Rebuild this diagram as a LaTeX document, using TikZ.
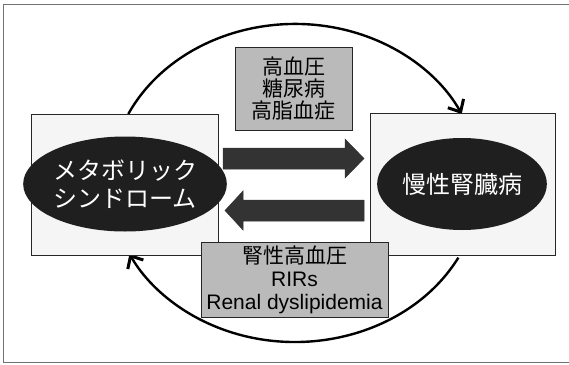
\documentclass[tikz,border=0pt]{standalone}
\usepackage{fontspec}
\setmainfont{Liberation Sans}
\newfontfamily\jp{Noto Sans CJK JP}
\usetikzlibrary{arrows.meta,shapes.geometric}
\tikzset{
  mainbox/.style={draw=black!85, line width=0.9pt, fill=black!4, minimum width=187pt, minimum height=141pt, inner sep=0pt},
  darkell/.style={ellipse, fill=black!88, text=white, inner sep=0pt, align=center, font=\jp\fontsize{24}{28}\selectfont},
  labelbox/.style={draw=black!85, line width=0.9pt, fill=black!27, inner sep=0pt, align=center},
  cyc/.style={line width=2.4pt, -{Straight Barb[length=10pt,width=18pt,line width=3pt]}},
  bigarrow/.style={fill=black!80, draw=black!80, line width=0.5pt},
  frameline/.style={draw=black!55, line width=0.8pt}
}
\begin{document}
\begin{tikzpicture}[x=1pt,y=-1pt]
\useasboundingbox (0,0) rectangle (569,364);
% outer frame (top, left, bottom)
\draw[frameline] (569,4) -- (3,4) -- (3,362) -- (569,362);
% cycle arcs
\coordinate (lt) at (128.3,114);
\coordinate (rb) at ({295+185*cos(28)},{183+159*sin(28)});
\draw[cyc] (lt) arc[start angle=205.7, end angle=334.3, x radius=185, y radius=159];
\draw[cyc] (rb) arc[start angle=28, end angle=153.5, x radius=185, y radius=159];
% main boxes
\node[mainbox] (L) at (124.5,184.5) {};
\node[mainbox, minimum width=185pt, minimum height=142pt] (R) at (462.5,184) {};
\node[darkell, minimum width=172pt, minimum height=95pt] (ms) at (125,184) {メタボリック\\シンドローム};
\node[darkell, minimum width=164pt, minimum height=92pt] (ckd) at (462,184) {慢性腎臓病};
% big arrows
\draw[bigarrow] (223,148) -- (345,148) -- (345,139) -- (364,158.5) -- (345,178) -- (345,169) -- (223,169) -- cycle;
\draw[bigarrow] (364,200) -- (243,200) -- (243,191) -- (225,210.5) -- (243,230) -- (243,221) -- (364,221) -- cycle;
% label boxes
\node[labelbox, minimum width=117pt, minimum height=83pt, font=\jp\fontsize{21}{22}\selectfont] (top) at (293.5,88.5) {高血圧\\糖尿病\\高脂血症};
\node[labelbox, minimum width=187pt, minimum height=75pt, font=\fontsize{21}{23}\selectfont] (bot) at (294.5,279.5) {{\jp 腎性高血圧}\\RIRs\\Renal dyslipidemia};
\end{tikzpicture}
\end{document}
